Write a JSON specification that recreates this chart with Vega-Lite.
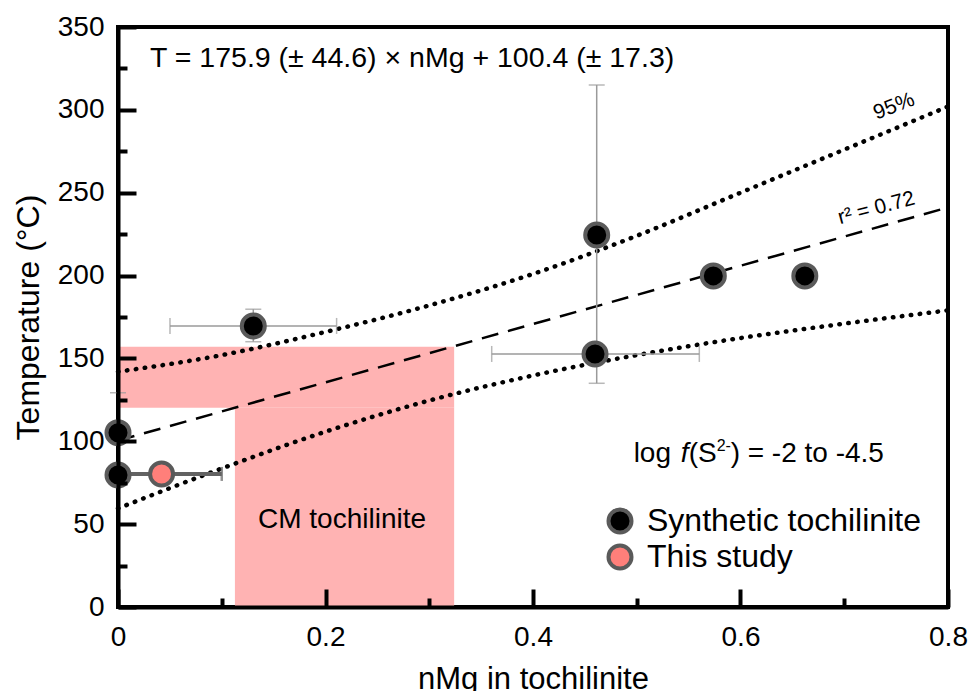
{
  "$schema": "https://vega.github.io/schema/vega-lite/v6.json",
  "width": 830,
  "height": 580,
  "autosize": "none",
  "padding": {"left": 118, "top": 27, "right": 24, "bottom": 84},
  "background": "white",
  "config": {
    "view": {"stroke": "black", "strokeWidth": 4},
    "font": "Liberation Sans",
    "axis": {"grid": false, "labelFont": "Liberation Sans", "titleFont": "Liberation Sans"},
    "legend": {"labelFont": "Liberation Sans"}
  },
  "datasets": {
    "rects": [
      {"x1": 0, "x2": 0.324, "y1": 120.3, "y2": 157.1},
      {"x1": 0.1127, "x2": 0.324, "y1": 0, "y2": 120.3}
    ],
    "bands": [
      {"x": 0, "y": 142, "band": "upper"},
      {"x": 0.1, "y": 152, "band": "upper"},
      {"x": 0.2, "y": 166, "band": "upper"},
      {"x": 0.3, "y": 182, "band": "upper"},
      {"x": 0.4, "y": 201, "band": "upper"},
      {"x": 0.5, "y": 224, "band": "upper"},
      {"x": 0.6, "y": 250, "band": "upper"},
      {"x": 0.7, "y": 276, "band": "upper"},
      {"x": 0.8, "y": 302, "band": "upper"},
      {"x": 0, "y": 59.5, "band": "lower"},
      {"x": 0.1, "y": 83.6, "band": "lower"},
      {"x": 0.2, "y": 105.8, "band": "lower"},
      {"x": 0.3, "y": 124.6, "band": "lower"},
      {"x": 0.4, "y": 139.7, "band": "lower"},
      {"x": 0.5, "y": 152, "band": "lower"},
      {"x": 0.6, "y": 162.3, "band": "lower"},
      {"x": 0.7, "y": 171, "band": "lower"},
      {"x": 0.8, "y": 179, "band": "lower"}
    ],
    "fit": [
      {"x": 0, "y": 100.4},
      {"x": 0.8, "y": 241.1}
    ],
    "hbars": [
      {"y": 169.6, "lo": 0.0501, "hi": 0.2107},
      {"y": 152.7, "lo": 0.3602, "hi": 0.5603}
    ],
    "vbars": [
      {"x": 0.1304, "lo": 160.1, "hi": 179.7},
      {"x": 0.4614, "lo": 135, "hi": 315},
      {"x": 0, "lo": 81, "hi": 129.3}
    ],
    "studybar": [
      {"y": 80.3, "lo": 0, "hi": 0.1}
    ],
    "points": [
      {"x": 0, "y": 105.2, "group": "Synthetic tochilinite"},
      {"x": 0, "y": 79.7, "group": "Synthetic tochilinite"},
      {"x": 0.1304, "y": 169.6, "group": "Synthetic tochilinite"},
      {"x": 0.4614, "y": 224.5, "group": "Synthetic tochilinite"},
      {"x": 0.4598, "y": 152.7, "group": "Synthetic tochilinite"},
      {"x": 0.5738, "y": 199.8, "group": "Synthetic tochilinite"},
      {"x": 0.662, "y": 199.8, "group": "Synthetic tochilinite"},
      {"x": 0.042, "y": 80.3, "group": "This study"}
    ]
  },
  "layer": [
    {
      "data": {"name": "rects"},
      "mark": {"type": "rect", "fill": "#ffb3b3"},
      "encoding": {
        "x": {"field": "x1", "type": "quantitative", "scale": {"domain": [0, 0.8], "nice": false, "zero": false}, "axis": null},
        "x2": {"field": "x2"},
        "y": {"field": "y1", "type": "quantitative", "scale": {"domain": [0, 350], "nice": false, "zero": false}, "axis": null},
        "y2": {"field": "y2"}
      }
    },
    {
      "data": {"name": "bands"},
      "mark": {"type": "line", "color": "black", "strokeWidth": 4.5, "strokeDash": [0.5, 8.5], "strokeCap": "round", "interpolate": "monotone"},
      "encoding": {
        "x": {"field": "x", "type": "quantitative", "scale": {"domain": [0, 0.8], "nice": false, "zero": false}, "axis": null},
        "y": {"field": "y", "type": "quantitative", "scale": {"domain": [0, 350], "nice": false, "zero": false}, "axis": null},
        "detail": {"field": "band"}
      }
    },
    {
      "data": {"name": "fit"},
      "mark": {"type": "line", "color": "black", "strokeWidth": 2.5, "strokeDash": [17, 10]},
      "encoding": {
        "x": {"field": "x", "type": "quantitative", "scale": {"domain": [0, 0.8], "nice": false, "zero": false}, "axis": null},
        "y": {"field": "y", "type": "quantitative", "scale": {"domain": [0, 350], "nice": false, "zero": false}, "axis": null}
      }
    },
    {
      "data": {"name": "hbars"},
      "mark": {"type": "errorbar", "rule": {"color": "#9a9a9a", "strokeWidth": 1.5}, "ticks": {"color": "#9a9a9a", "size": 16, "thickness": 1.5}},
      "encoding": {
        "x": {"field": "lo", "type": "quantitative", "scale": {"domain": [0, 0.8], "nice": false, "zero": false}, "axis": null},
        "x2": {"field": "hi"},
        "y": {"field": "y", "type": "quantitative", "scale": {"domain": [0, 350], "nice": false, "zero": false}, "axis": null}
      }
    },
    {
      "data": {"name": "vbars"},
      "mark": {"type": "errorbar", "rule": {"color": "#9a9a9a", "strokeWidth": 1.5}, "ticks": {"color": "#9a9a9a", "size": 16, "thickness": 1.5}},
      "encoding": {
        "y": {"field": "lo", "type": "quantitative", "scale": {"domain": [0, 350], "nice": false, "zero": false}, "axis": null},
        "y2": {"field": "hi"},
        "x": {"field": "x", "type": "quantitative", "scale": {"domain": [0, 0.8], "nice": false, "zero": false}, "axis": null}
      }
    },
    {
      "data": {"name": "studybar"},
      "mark": {"type": "errorbar", "rule": {"color": "#626262", "strokeWidth": 4}, "ticks": {"color": "#626262", "size": 14, "thickness": 2.5}},
      "encoding": {
        "x": {"field": "lo", "type": "quantitative", "scale": {"domain": [0, 0.8], "nice": false, "zero": false}, "axis": null},
        "x2": {"field": "hi"},
        "y": {"field": "y", "type": "quantitative", "scale": {"domain": [0, 350], "nice": false, "zero": false}, "axis": null}
      }
    },
    {
      "data": {"name": "points"},
      "mark": {"type": "point", "filled": true, "shape": "circle", "size": 529, "stroke": "#5a5a5a", "strokeWidth": 4, "opacity": 1, "fillOpacity": 1, "strokeOpacity": 1},
      "encoding": {
        "x": {"field": "x", "type": "quantitative", "scale": {"domain": [0, 0.8], "nice": false, "zero": false}, "axis": null},
        "y": {"field": "y", "type": "quantitative", "scale": {"domain": [0, 350], "nice": false, "zero": false}, "axis": null},
        "fill": {
          "field": "group", "type": "nominal",
          "scale": {"domain": ["Synthetic tochilinite", "This study"], "range": ["#000000", "#ff7f7a"]},
          "legend": {
            "orient": "none", "legendX": 486, "legendY": 478, "title": null,
            "padding": 0, "labelFontSize": 32, "labelColor": "black", "labelOffset": 11, "labelLimit": 500,
            "symbolSize": 529, "symbolType": "circle", "symbolStrokeColor": "#5a5a5a", "symbolStrokeWidth": 4,
            "symbolOpacity": 1, "rowPadding": -9
          }
        }
      }
    },
    {
      "data": {"values": [{"x": 0.0308, "y": 325.9, "label": "T = 175.9 (± 44.6) × nMg + 100.4 (± 17.3)"}]},
      "mark": {"type": "text", "fontSize": 28.5, "align": "left", "baseline": "alphabetic", "color": "black"},
      "encoding": {
        "x": {"field": "x", "type": "quantitative", "scale": {"domain": [0, 0.8], "nice": false, "zero": false}, "axis": null},
        "y": {"field": "y", "type": "quantitative", "scale": {"domain": [0, 350], "nice": false, "zero": false}, "axis": null},
        "text": {"field": "label"}
      }
    },
    {
      "data": {"values": [{"x": 0.2159, "y": 47.7, "label": "CM tochilinite"}]},
      "mark": {"type": "text", "fontSize": 28, "align": "center", "baseline": "alphabetic", "color": "black"},
      "encoding": {
        "x": {"field": "x", "type": "quantitative", "scale": {"domain": [0, 0.8], "nice": false, "zero": false}, "axis": null},
        "y": {"field": "y", "type": "quantitative", "scale": {"domain": [0, 350], "nice": false, "zero": false}, "axis": null},
        "text": {"field": "label"}
      }
    },
    {
      "data": {"values": [{"x": 0.497, "y": 87.5, "label": "log"}]},
      "mark": {"type": "text", "fontSize": 28, "align": "left", "baseline": "alphabetic", "color": "black"},
      "encoding": {
        "x": {"field": "x", "type": "quantitative", "scale": {"domain": [0, 0.8], "nice": false, "zero": false}, "axis": null},
        "y": {"field": "y", "type": "quantitative", "scale": {"domain": [0, 350], "nice": false, "zero": false}, "axis": null},
        "text": {"field": "label"}
      }
    },
    {
      "data": {"values": [{"x": 0.497, "y": 87.5, "label": "f"}]},
      "mark": {"type": "text", "fontSize": 28, "fontStyle": "italic", "align": "left", "baseline": "alphabetic", "color": "black", "dx": 47},
      "encoding": {
        "x": {"field": "x", "type": "quantitative", "scale": {"domain": [0, 0.8], "nice": false, "zero": false}, "axis": null},
        "y": {"field": "y", "type": "quantitative", "scale": {"domain": [0, 350], "nice": false, "zero": false}, "axis": null},
        "text": {"field": "label"}
      }
    },
    {
      "data": {"values": [{"x": 0.497, "y": 87.5, "label": "(S"}]},
      "mark": {"type": "text", "fontSize": 28, "align": "left", "baseline": "alphabetic", "color": "black", "dx": 55},
      "encoding": {
        "x": {"field": "x", "type": "quantitative", "scale": {"domain": [0, 0.8], "nice": false, "zero": false}, "axis": null},
        "y": {"field": "y", "type": "quantitative", "scale": {"domain": [0, 350], "nice": false, "zero": false}, "axis": null},
        "text": {"field": "label"}
      }
    },
    {
      "data": {"values": [{"x": 0.497, "y": 87.5, "label": "2-"}]},
      "mark": {"type": "text", "fontSize": 16, "align": "left", "baseline": "alphabetic", "color": "black", "dx": 83, "dy": -11},
      "encoding": {
        "x": {"field": "x", "type": "quantitative", "scale": {"domain": [0, 0.8], "nice": false, "zero": false}, "axis": null},
        "y": {"field": "y", "type": "quantitative", "scale": {"domain": [0, 350], "nice": false, "zero": false}, "axis": null},
        "text": {"field": "label"}
      }
    },
    {
      "data": {"values": [{"x": 0.497, "y": 87.5, "label": ") = -2 to -4.5"}]},
      "mark": {"type": "text", "fontSize": 28, "align": "left", "baseline": "alphabetic", "color": "black", "dx": 97},
      "encoding": {
        "x": {"field": "x", "type": "quantitative", "scale": {"domain": [0, 0.8], "nice": false, "zero": false}, "axis": null},
        "y": {"field": "y", "type": "quantitative", "scale": {"domain": [0, 350], "nice": false, "zero": false}, "axis": null},
        "text": {"field": "label"}
      }
    },
    {
      "data": {"values": [{"x": 0.748, "y": 302, "label": "95%"}]},
      "mark": {"type": "text", "fontSize": 21, "align": "center", "baseline": "middle", "angle": 339, "color": "black"},
      "encoding": {
        "x": {"field": "x", "type": "quantitative", "scale": {"domain": [0, 0.8], "nice": false, "zero": false}, "axis": null},
        "y": {"field": "y", "type": "quantitative", "scale": {"domain": [0, 350], "nice": false, "zero": false}, "axis": null},
        "text": {"field": "label"}
      }
    },
    {
      "data": {"values": [{"x": 0.731, "y": 240.6, "label": "r² = 0.72"}]},
      "mark": {"type": "text", "fontSize": 21, "align": "center", "baseline": "middle", "angle": 345, "color": "black"},
      "encoding": {
        "x": {"field": "x", "type": "quantitative", "scale": {"domain": [0, 0.8], "nice": false, "zero": false}, "axis": null},
        "y": {"field": "y", "type": "quantitative", "scale": {"domain": [0, 350], "nice": false, "zero": false}, "axis": null},
        "text": {"field": "label"}
      }
    },
    {
      "data": {"name": "points"},
      "mark": {"type": "point", "opacity": 0},
      "encoding": {
        "x": {"field": "x", "type": "quantitative", "scale": {"domain": [0, 0.8], "nice": false, "zero": false},
          "axis": {"orient": "bottom", "values": [0, 0.2, 0.4, 0.6, 0.8], "format": "~g", "zindex": 1,
            "domain": true, "domainColor": "black", "domainWidth": 4,
            "ticks": true, "tickSize": -18, "tickWidth": 4, "tickColor": "black",
            "labelFontSize": 28, "labelColor": "black", "labelPadding": 34, "labelOverlap": false, "labelFlush": false, "labelBound": false,
            "title": "nMg in tochilinite", "titleFontSize": 31, "titleFontWeight": "normal", "titleColor": "black",
            "titleBaseline": "alphabetic", "titleY": 81}},
        "y": {"field": "y", "type": "quantitative", "scale": {"domain": [0, 350], "nice": false, "zero": false},
          "axis": {"orient": "left", "values": [0, 50, 100, 150, 200, 250, 300, 350], "format": "d", "zindex": 1,
            "domain": true, "domainColor": "black", "domainWidth": 4,
            "ticks": true, "tickSize": -18, "tickWidth": 4, "tickColor": "black",
            "labelFontSize": 28, "labelColor": "black", "labelPadding": 32, "labelOverlap": false, "labelFlush": false, "labelBound": false,
            "title": "Temperature (°C)", "titleFontSize": 32, "titleFontWeight": "normal", "titleColor": "black",
            "titleBaseline": "alphabetic", "titleX": -80}}
      }
    },
    {
      "data": {"name": "points"},
      "mark": {"type": "point", "opacity": 0},
      "encoding": {
        "x": {"field": "x", "type": "quantitative", "scale": {"domain": [0, 0.8], "nice": false, "zero": false},
          "axis": {"orient": "bottom", "values": [0.1, 0.3, 0.5, 0.7], "zindex": 1, "domain": false, "labels": false,
            "ticks": true, "tickSize": -9, "tickWidth": 4, "tickColor": "black", "title": null}},
        "y": {"field": "y", "type": "quantitative", "scale": {"domain": [0, 350], "nice": false, "zero": false},
          "axis": {"orient": "left", "values": [25, 75, 125, 175, 225, 275, 325], "zindex": 1, "domain": false, "labels": false,
            "ticks": true, "tickSize": -9, "tickWidth": 4, "tickColor": "black", "title": null}}
      }
    }
  ],
  "resolve": {"axis": {"x": "independent", "y": "independent"}}
}
